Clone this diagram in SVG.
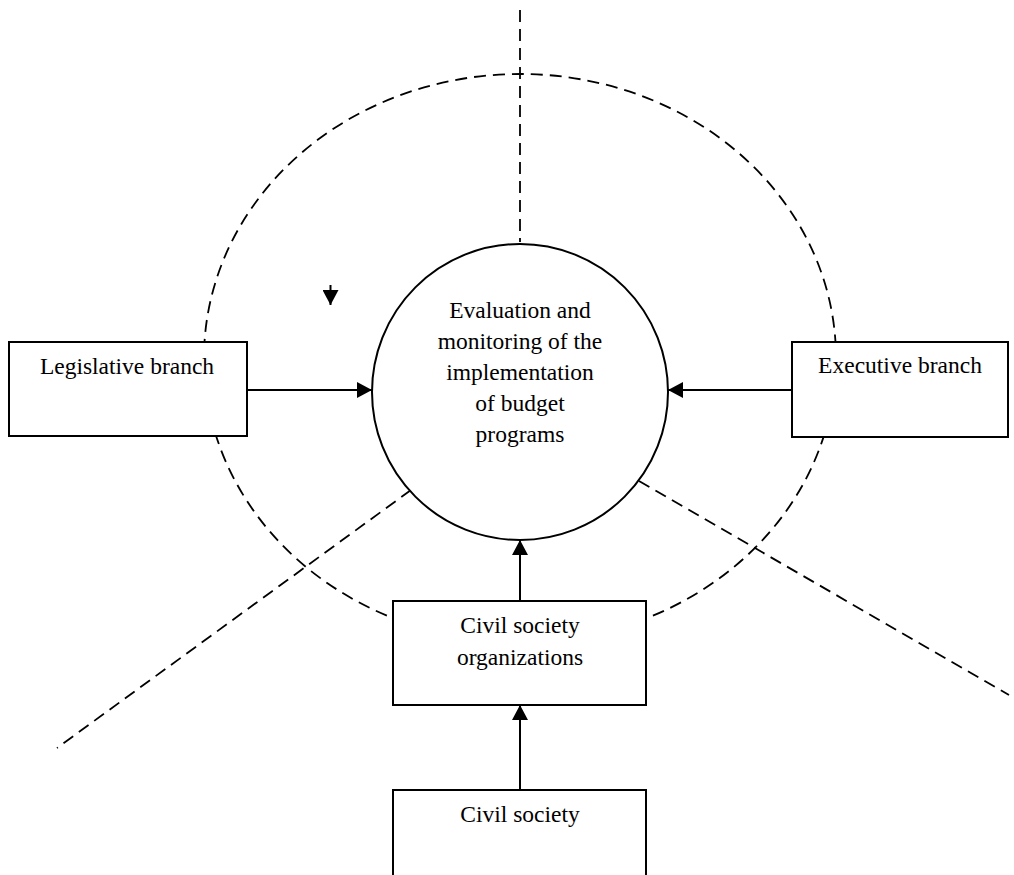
<svg xmlns="http://www.w3.org/2000/svg" width="1014" height="875" viewBox="0 0 1014 875">
  <style>
    .dash { fill: none; stroke: #000; stroke-width: 1.8; stroke-dasharray: 12 7; }
    .box { fill: #fff; stroke: #000; stroke-width: 2; }
    .conn { fill: none; stroke: #000; stroke-width: 2; }
    .lbl { font-family: "Liberation Serif", "Times New Roman", serif; font-size: 23.5px; fill: #000; text-anchor: middle; }
  </style>
  <defs>
    <marker id="arr" viewBox="0 0 15 16" refX="15" refY="8" markerWidth="15" markerHeight="16" markerUnits="userSpaceOnUse" orient="auto">
      <path d="M0,0 L15,8 L0,16 Z" fill="#000"/>
    </marker>
  </defs>
  <rect width="1014" height="875" fill="#fff"/>

  <g id="guides">
    <ellipse class="dash" cx="520" cy="358" rx="316" ry="284"/>
    <line class="dash" x1="520" y1="10" x2="520" y2="242"/>
    <line class="dash" x1="411" y1="490" x2="57" y2="748"/>
    <line class="dash" x1="639" y1="481" x2="1009" y2="695"/>
  </g>

  <g id="center">
    <circle cx="520" cy="392" r="148" fill="#fff" stroke="#000" stroke-width="2"/>
    <text class="lbl" x="520" y="318">Evaluation and</text>
    <text class="lbl" x="520" y="349">monitoring of the</text>
    <text class="lbl" x="520" y="380">implementation</text>
    <text class="lbl" x="520" y="411">of budget</text>
    <text class="lbl" x="520" y="442">programs</text>
  </g>

  <g id="legislative">
    <rect class="box" x="9" y="342" width="238" height="94"/>
    <text class="lbl" x="127" y="374">Legislative branch</text>
  </g>

  <g id="executive">
    <rect class="box" x="792" y="342" width="216" height="95"/>
    <text class="lbl" x="900" y="373">Executive branch</text>
  </g>

  <g id="cso">
    <rect class="box" x="393" y="601" width="253" height="104"/>
    <text class="lbl" x="520" y="633">Civil society</text>
    <text class="lbl" x="520" y="665">organizations</text>
  </g>

  <g id="civil-society">
    <rect class="box" x="393" y="790" width="253" height="100"/>
    <text class="lbl" x="520" y="822">Civil society</text>
  </g>

  <g id="connectors">
    <line class="conn" x1="247" y1="390" x2="372" y2="390" marker-end="url(#arr)"/>
    <line class="conn" x1="792" y1="390" x2="668" y2="390" marker-end="url(#arr)"/>
    <line class="conn" x1="520" y1="601" x2="520" y2="540" marker-end="url(#arr)"/>
    <line class="conn" x1="520" y1="790" x2="520" y2="705" marker-end="url(#arr)"/>
    <line class="conn" x1="330.5" y1="285" x2="330.5" y2="305" marker-end="url(#arr)"/>
  </g>
</svg>
